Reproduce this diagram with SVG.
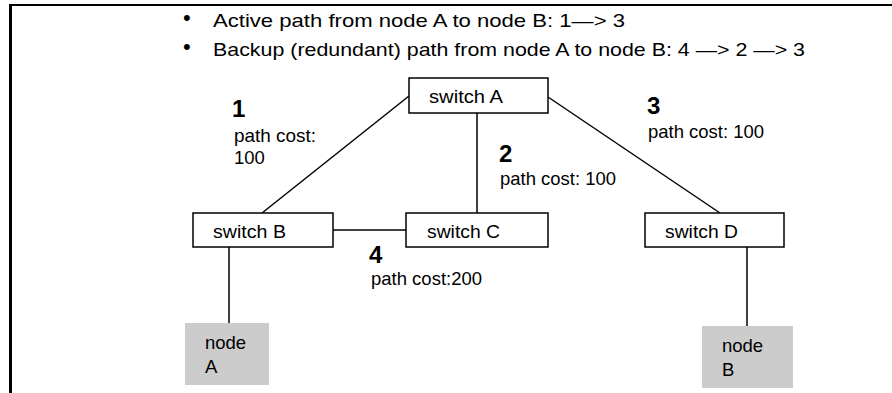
<svg xmlns="http://www.w3.org/2000/svg" width="892" height="393" viewBox="0 0 892 393">
<style>
text { font-family: "Liberation Sans", Arial, sans-serif; fill: #000; }
.t { font-size: 18.5px; }
.b { font-size: 19px; }
.bl { font-size: 22px; }
.n { font-size: 24px; font-weight: bold; }
.sw { fill: #fff; stroke: #000; stroke-width: 1.5; }
.nd { fill: #cccccc; stroke: none; }
.c line { stroke: #000; stroke-width: 1.5; }
</style>
<rect x="0" y="0" width="892" height="393" fill="#fff"/>
<g id="frame">
<line x1="9" y1="5" x2="892" y2="5" stroke="#000" stroke-width="2"/>
<line x1="10.5" y1="4" x2="10.5" y2="393" stroke="#000" stroke-width="3"/>
</g>
<g id="bullets">
<text class="bl" x="183" y="24.5">•</text>
<text class="b" x="213" y="27" textLength="412" lengthAdjust="spacingAndGlyphs">Active path from node A to node B: 1—&gt; 3</text>
<text class="bl" x="183" y="53.5">•</text>
<text class="b" x="213" y="56" textLength="592" lengthAdjust="spacingAndGlyphs">Backup (redundant) path from node A to node B: 4 —&gt; 2 —&gt; 3</text>
</g>
<g id="connectors" class="c">
<line x1="409" y1="96" x2="262" y2="213"/>
<line x1="477" y1="113" x2="477" y2="213"/>
<line x1="548" y1="97" x2="720" y2="213"/>
<line x1="333" y1="230" x2="406" y2="230"/>
<line x1="229" y1="247" x2="229" y2="326"/>
<line x1="747" y1="245" x2="747" y2="326"/>
</g>
<g id="switchA"><rect class="sw" x="409" y="78" width="139" height="35"/><text class="t" x="429" y="103" textLength="74" lengthAdjust="spacingAndGlyphs">switch A</text></g>
<g id="switchB"><rect class="sw" x="193" y="213" width="140" height="34"/><text class="t" x="213" y="238" textLength="73" lengthAdjust="spacingAndGlyphs">switch B</text></g>
<g id="switchC"><rect class="sw" x="406" y="213" width="142" height="34"/><text class="t" x="427" y="238" textLength="73" lengthAdjust="spacingAndGlyphs">switch C</text></g>
<g id="switchD"><rect class="sw" x="645" y="213" width="139" height="34"/><text class="t" x="665" y="238" textLength="73" lengthAdjust="spacingAndGlyphs">switch D</text></g>
<g id="nodeA"><rect class="nd" x="185" y="323" width="84" height="62"/><text class="t" x="205" y="349">node</text><text class="t" x="205" y="373">A</text></g>
<g id="nodeB"><rect class="nd" x="702" y="326" width="91" height="62"/><text class="t" x="722" y="352">node</text><text class="t" x="722" y="376">B</text></g>
<g id="label1"><text class="n" x="232" y="117">1</text><text class="t" x="234" y="142" textLength="82" lengthAdjust="spacingAndGlyphs">path cost:</text><text class="t" x="234" y="164">100</text></g>
<g id="label2"><text class="n" x="499" y="162">2</text><text class="t" x="500" y="185" textLength="116" lengthAdjust="spacingAndGlyphs">path cost: 100</text></g>
<g id="label3"><text class="n" x="647" y="114">3</text><text class="t" x="648" y="138" textLength="116" lengthAdjust="spacingAndGlyphs">path cost: 100</text></g>
<g id="label4"><text class="n" x="369" y="263">4</text><text class="t" x="371" y="285" textLength="111" lengthAdjust="spacingAndGlyphs">path cost:200</text></g>
</svg>
